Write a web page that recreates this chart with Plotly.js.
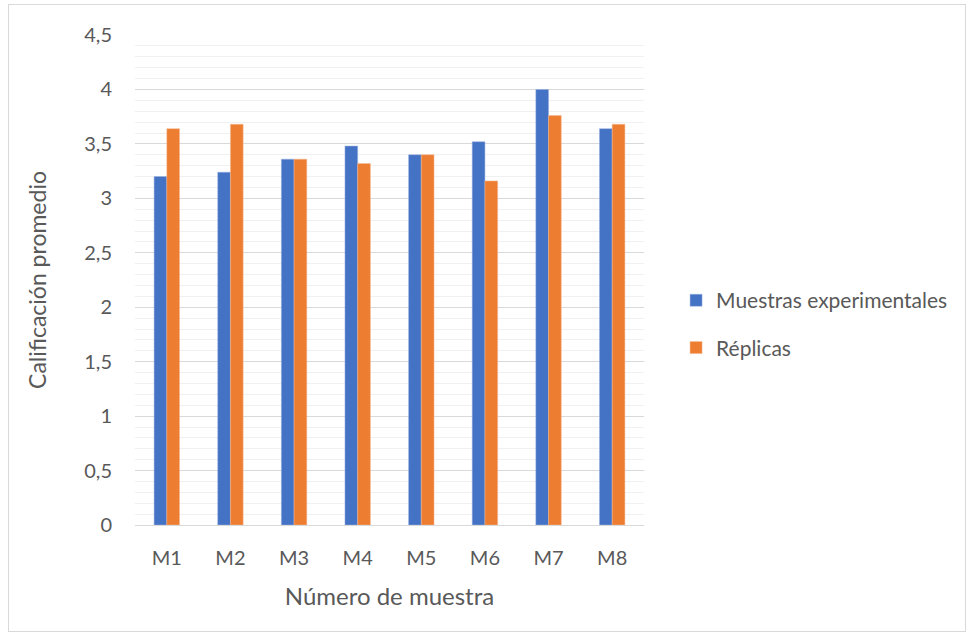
<!DOCTYPE html>
<html>
<head>
<meta charset="utf-8">
<script src="https://cdn.plot.ly/plotly-3.0.1.min.js"></script>
<style>
html,body{margin:0;padding:0;background:#fff;}
#frame{position:absolute;left:8px;top:4px;width:958px;height:628px;border:1px solid #d9d9d9;box-sizing:border-box;}
#chart{position:absolute;left:0;top:0;width:973px;height:640px;}
</style>
</head>
<body>
<div id="frame"></div>
<div id="chart"></div>
<script>
const categories = ["M1","M2","M3","M4","M5","M6","M7","M8"];
const muestras = [3.20, 3.24, 3.36, 3.48, 3.40, 3.52, 4.00, 3.64];
const replicas = [3.64, 3.68, 3.36, 3.32, 3.40, 3.16, 3.76, 3.68];
const seriesNames = ["Muestras experimentales", "Réplicas"];
const yTicks = [0, 0.5, 1, 1.5, 2, 2.5, 3, 3.5, 4, 4.5];
const yTickText = ["0", "0,5", "1", "1,5", "2", "2,5", "3", "3,5", "4", "4,5"];

const font = "Lato, 'Noto Sans', sans-serif";
const txt = "#595959";

const data = [
  {type:"bar", x:categories, y:muestras, name:seriesNames[0], legendgroup:"a",
   marker:{color:"#4472c4", line:{color:"#9db3e0", width:0.5}}, hoverinfo:"x+y"},
  {type:"bar", x:categories, y:replicas, name:seriesNames[1], legendgroup:"b",
   marker:{color:"#ed7d31", line:{color:"#f5b894", width:0.5}}, hoverinfo:"x+y"}
];

const layout = {
  width:973, height:640,
  paper_bgcolor:"rgba(0,0,0,0)", plot_bgcolor:"rgba(0,0,0,0)",
  margin:{l:135, r:329, t:35, b:115},
  separators:", ",
  barmode:"group", bargap:0.6, bargroupgap:0,
  font:{family:font, color:txt, size:20},
  xaxis:{
    showgrid:false, showline:false, zeroline:false, ticks:"",
    tickfont:{family:font, size:20, color:txt},
    ticklabelstandoff:19,
    title:{text:"Número de muestra", font:{family:font, size:24, color:txt}, standoff:20}
  },
  yaxis:{
    range:[0,4.5], tickmode:"array", tickvals:yTicks, ticktext:yTickText,
    showgrid:true, gridcolor:"#d9d9d9", gridwidth:1,
    zeroline:true, zerolinecolor:"#d9d9d9", zerolinewidth:1,
    showline:false, ticks:"",
    minor:{dtick:0.1, showgrid:true, gridcolor:"#f0f0f0", gridwidth:1, ticks:""},
    tickfont:{family:font, size:20, color:txt},
    ticklabelstandoff:22,
    title:{text:"Calificación promedio", font:{family:font, size:23, color:txt}, standoff:31}
  },
  legend:{
    x:1.063, xanchor:"left", y:0.41, yanchor:"middle",
    traceorder:"grouped", tracegroupgap:17,
    font:{family:font, size:21, color:txt},
    itemwidth:30
  },
  showlegend:true
};

Plotly.newPlot("chart", data, layout, {displayModeBar:false, staticPlot:true});
</script>
</body>
</html>
